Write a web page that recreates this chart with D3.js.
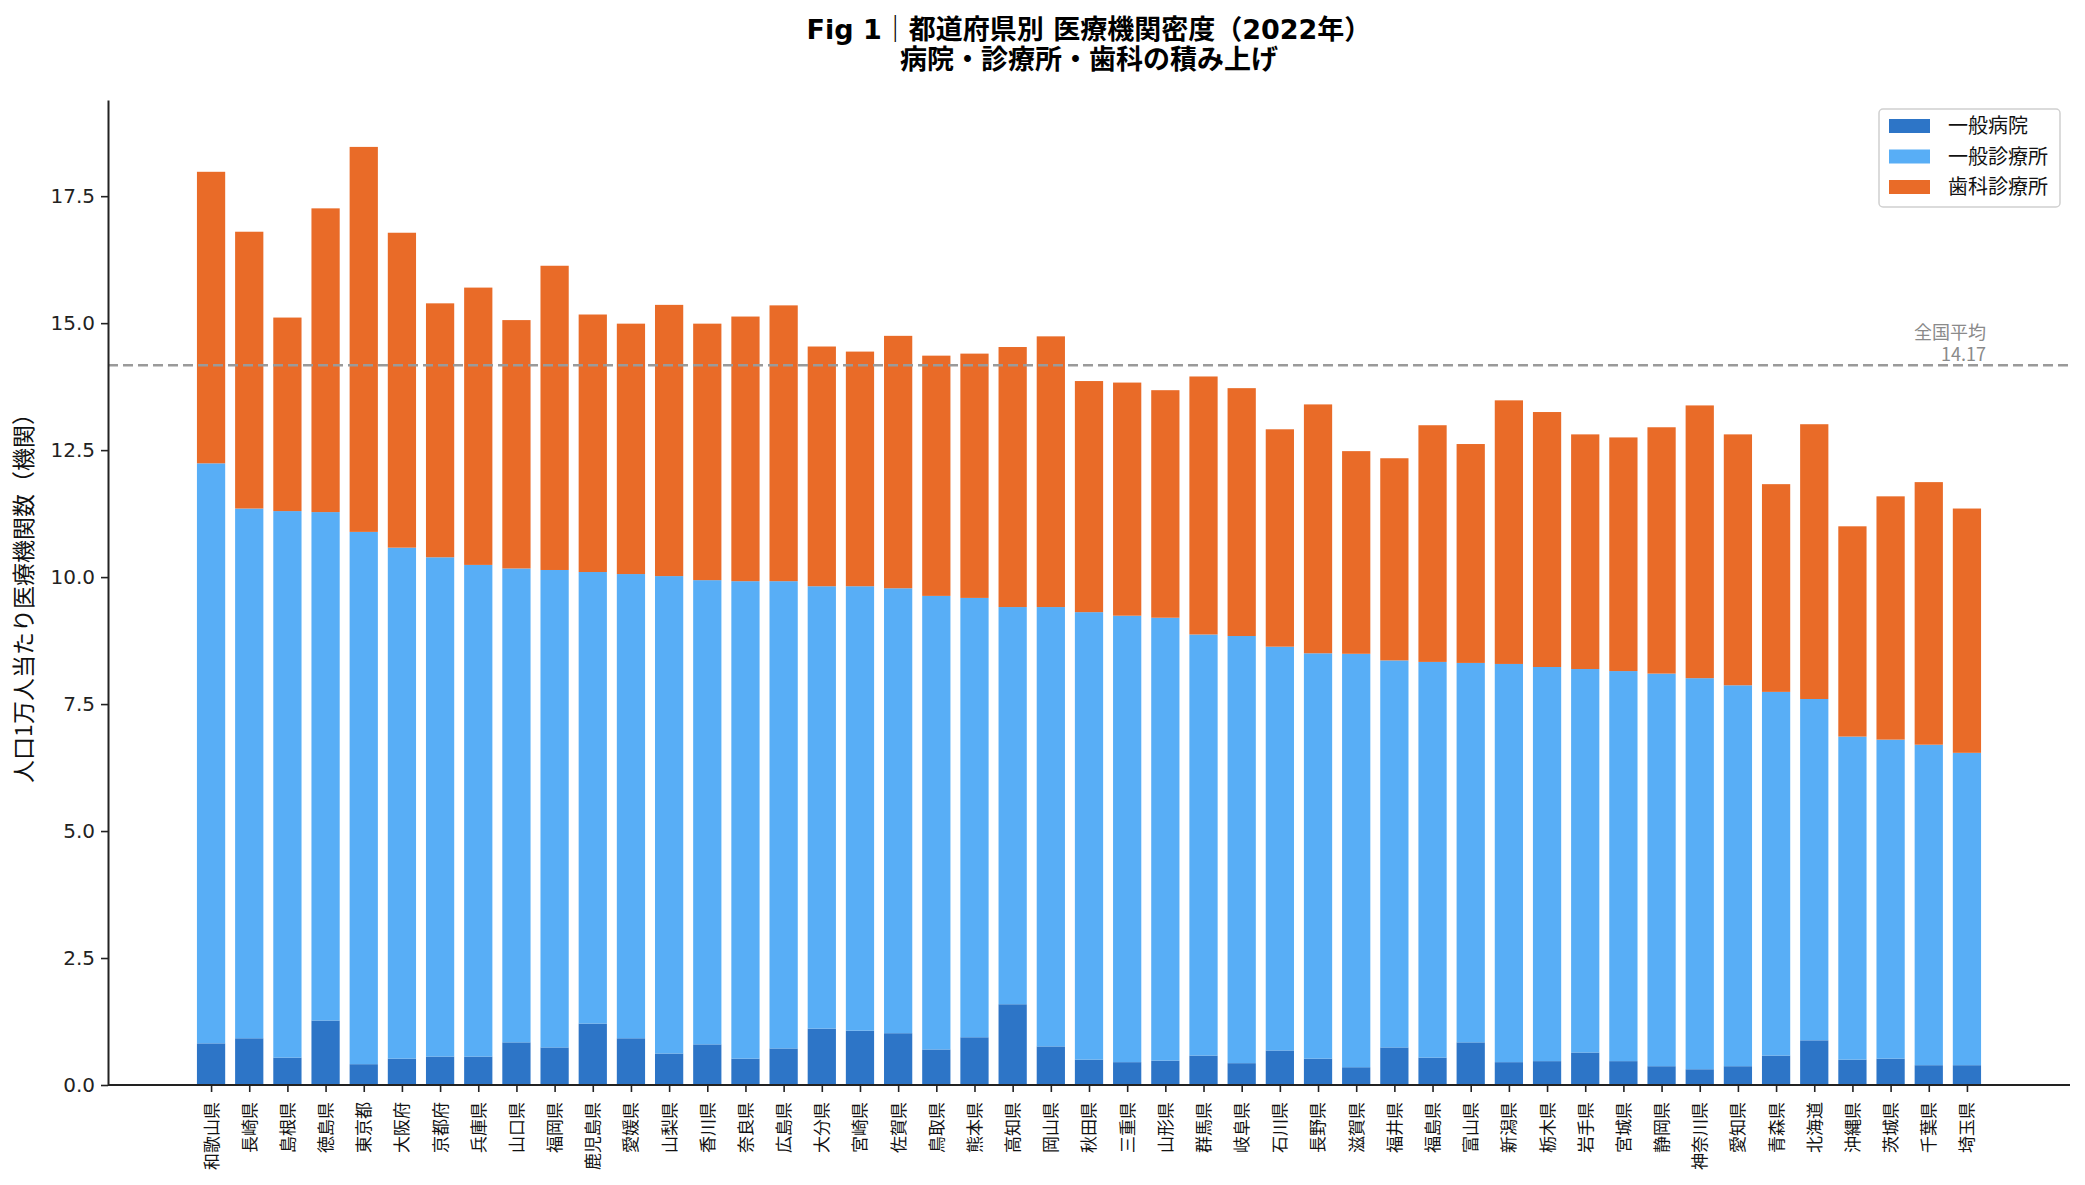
<!DOCTYPE html>
<html>
<head>
<meta charset="utf-8">
<script src="https://cdn.jsdelivr.net/npm/d3@7"></script>
<style>
  body { margin: 0; background: #fff; }
  text { font-family: "Noto Sans CJK JP", "Noto Sans", sans-serif; }
  .tick-num text { font-family: "DejaVu Sans", "Noto Sans CJK JP", sans-serif; }
  .title { font-family: "DejaVu Sans", "Noto Sans CJK JP", sans-serif; }
</style>
</head>
<body>
<div class="visual-container"></div>
<script>

/*************** DATA ***************/
// prefectures, sorted by clinic density (hospital + clinic)
const prefectures = [
  '和歌山県','長崎県','島根県','徳島県','東京都','大阪府','京都府','兵庫県','山口県','福岡県',
  '鹿児島県','愛媛県','山梨県','香川県','奈良県','広島県','大分県','宮崎県','佐賀県','鳥取県',
  '熊本県','高知県','岡山県','秋田県','三重県','山形県','群馬県','岐阜県','石川県','長野県',
  '滋賀県','福井県','福島県','富山県','新潟県','栃木県','岩手県','宮城県','静岡県','神奈川県',
  '愛知県','青森県','北海道','沖縄県','茨城県','千葉県','埼玉県'
];

// per 10,000 people
const hospitals = [
  0.82,0.92,0.54,1.27,0.41,0.52,0.56,0.56,0.84,0.74,
  1.21,0.92,0.62,0.80,0.52,0.72,1.11,1.07,1.02,0.70,
  0.94,1.59,0.76,0.50,0.45,0.48,0.58,0.43,0.68,0.52,
  0.35,0.74,0.54,0.84,0.45,0.47,0.64,0.47,0.37,0.31,
  0.37,0.58,0.88,0.50,0.52,0.39,0.39
];

const clinics = [
  11.42,10.43,10.76,10.01,10.48,10.06,9.83,9.68,9.33,9.40,
  8.89,9.14,9.40,9.14,9.40,9.20,8.71,8.75,8.76,8.93,
  8.65,7.82,8.65,8.81,8.79,8.72,8.29,8.41,7.95,7.98,
  8.14,7.62,7.79,7.47,7.84,7.76,7.55,7.68,7.73,7.70,
  7.50,7.16,6.72,6.36,6.28,6.31,6.15
];

const dentals = [
  5.74,5.45,3.81,5.98,7.58,6.20,5.00,5.46,4.89,5.99,
  5.07,4.93,5.34,5.05,5.21,5.43,4.72,4.62,4.97,4.73,
  4.81,5.12,5.33,4.55,4.59,4.48,5.08,4.88,4.28,4.90,
  3.99,3.98,4.66,4.31,5.19,5.02,4.62,4.60,4.85,5.37,
  4.94,4.09,5.41,4.14,4.79,5.17,4.81
];

const seriesNames = ['一般病院', '一般診療所', '歯科診療所'];
const seriesColours = ['#2d75c7', '#58aef6', '#e96b28'];

const nationalAvg = 14.17;
const yTicks = [0, 2.5, 5, 7.5, 10, 12.5, 15, 17.5];

/*************** CHART ***************/
const width = 2085;
const height = 1185;
const margin = { top: 100, right: 15, bottom: 100, left: 108 };
const plotRight = width - margin.right;
const plotBottom = height - margin.bottom;

// build rows for the stack from the separate arrays
const rows = prefectures.map((p, i) => ({
  pref: p,
  '一般病院': hospitals[i],
  '一般診療所': clinics[i],
  '歯科診療所': dentals[i]
}));

const stacked = d3.stack().keys(seriesNames)(rows);
const maxTotal = d3.max(rows, d => d['一般病院'] + d['一般診療所'] + d['歯科診療所']);

const svg = d3.select('.visual-container')
  .append('svg')
  .attr('width', width)
  .attr('height', height);

svg.append('rect').attr('width', width).attr('height', height).attr('fill', '#fff');

// point scale with wide padding on both ends, like the original
const x = d3.scalePoint()
  .domain(prefectures)
  .range([margin.left, plotRight])
  .padding(2.7);

const barWidth = x.step() * 0.74;

// 5% headroom above the tallest bar
const y = d3.scaleLinear()
  .domain([0, maxTotal * 1.05])
  .range([plotBottom, margin.top]);

// bars
svg.append('g')
  .selectAll('g')
  .data(stacked)
  .enter()
  .append('g')
  .attr('fill', (d, i) => seriesColours[i])
  .selectAll('rect')
  .data(d => d)
  .enter()
  .append('rect')
  .attr('x', d => x(d.data.pref) - barWidth / 2)
  .attr('y', d => y(d[1]))
  .attr('width', barWidth)
  .attr('height', d => y(d[0]) - y(d[1]));

// national average line
svg.append('line')
  .attr('x1', margin.left)
  .attr('x2', plotRight)
  .attr('y1', y(nationalAvg))
  .attr('y2', y(nationalAvg))
  .attr('stroke', '#9a9a9a')
  .attr('stroke-width', 2.5)
  .attr('stroke-dasharray', '10,5');

// label sits just above the line, right aligned near the last bar
const avgX = x(prefectures[prefectures.length - 1]) + barWidth / 2 + 5;
const avgLabel = svg.append('text')
  .attr('x', avgX)
  .attr('y', y(nationalAvg) - 26)
  .attr('text-anchor', 'end')
  .attr('fill', '#8a8a8a')
  .style('font-size', '18px');
avgLabel.append('tspan').text('全国平均');
avgLabel.append('tspan')
  .attr('x', avgX)
  .attr('dy', 22)
  .text(nationalAvg.toFixed(2));

// y axis
const yAxis = d3.axisLeft(y)
  .tickValues(yTicks)
  .tickFormat(d3.format('.1f'))
  .tickSize(7)
  .tickSizeOuter(0)
  .tickPadding(6);

const yAxisG = svg.append('g')
  .attr('class', 'tick-num')
  .attr('transform', `translate(${margin.left},0)`)
  .call(yAxis);

yAxisG.selectAll('text').style('font-size', '20px').attr('fill', '#222');
yAxisG.selectAll('line').attr('stroke', '#222').attr('stroke-width', 1.6);
yAxisG.select('.domain').attr('stroke', '#222').attr('stroke-width', 2);

// x axis
const xAxis = d3.axisBottom(x)
  .tickSize(7)
  .tickSizeOuter(0);

const xAxisG = svg.append('g')
  .attr('transform', `translate(0,${plotBottom})`)
  .call(xAxis);

xAxisG.select('.domain')
  .attr('d', `M${margin.left},0H${plotRight}`)
  .attr('stroke', '#222')
  .attr('stroke-width', 2);
xAxisG.selectAll('line').attr('stroke', '#222').attr('stroke-width', 1.6);

// vertical labels, read bottom to top, hanging under the tick
xAxisG.selectAll('text')
  .attr('transform', 'rotate(-90)')
  .attr('x', -17)
  .attr('y', 0)
  .attr('dy', '0.35em')
  .attr('text-anchor', 'end')
  .attr('fill', '#111')
  .style('font-size', '17px');

// y axis title
svg.append('text')
  .attr('transform', `translate(24,${(margin.top + plotBottom) / 2}) rotate(-90)`)
  .attr('text-anchor', 'middle')
  .attr('dy', '0.35em')
  .attr('fill', '#111')
  .style('font-size', '23px')
  .text('人口1万人当たり医療機関数（機関）');

// title, two lines in one text element
const centreX = (margin.left + plotRight) / 2;
const title = svg.append('text')
  .attr('class', 'title')
  .attr('x', centreX)
  .attr('y', 30)
  .attr('dy', '0.35em')
  .attr('text-anchor', 'middle')
  .style('font-size', '27px')
  .style('font-weight', 'bold');

title.append('tspan')
  .text('Fig 1｜都道府県別 医療機関密度（2022年）');
title.append('tspan')
  .attr('x', centreX)
  .attr('dy', 30)
  .text('病院・診療所・歯科の積み上げ');

/**************** LEGEND ********************/
const legend = svg.append('g').attr('transform', 'translate(1879,109)');

legend.append('rect')
  .attr('width', 181)
  .attr('height', 98)
  .attr('rx', 4)
  .attr('fill', '#fff')
  .attr('fill-opacity', 0.85)
  .attr('stroke', '#d0d0d0')
  .attr('stroke-width', 1.5);

const items = legend.selectAll('.item')
  .data(seriesNames)
  .enter()
  .append('g')
  .attr('class', 'item')
  .attr('transform', (d, i) => `translate(0,${17 + i * 30.5})`);

items.append('rect')
  .attr('x', 10)
  .attr('y', -7)
  .attr('width', 41)
  .attr('height', 14)
  .attr('fill', (d, i) => seriesColours[i]);

items.append('text')
  .attr('x', 69)
  .attr('dy', '0.35em')
  .attr('fill', '#111')
  .style('font-size', '20px')
  .text(d => d);

</script>
</body>
</html>
